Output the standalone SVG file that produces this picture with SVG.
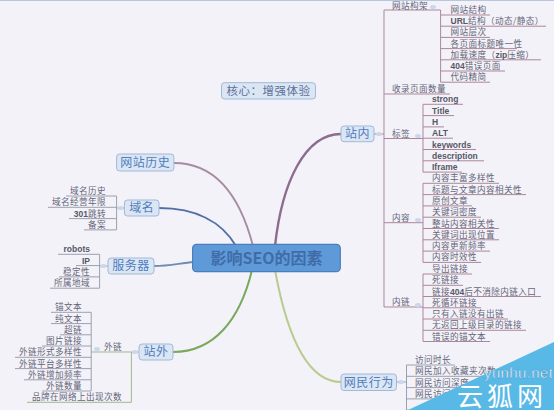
<svg xmlns="http://www.w3.org/2000/svg" width="554" height="410" viewBox="0 0 554 410">
<style>
.bg{fill:#f3f2f8}
.n1 rect{fill:#dbe6f4;stroke:#a3b8d8;stroke-width:1}
.n1 text{font-family:"Noto Sans CJK SC",sans-serif;font-size:12px;fill:#4f7dbd;text-anchor:middle;letter-spacing:0.5px}
.t{font-family:"Noto Sans CJK SC","Liberation Sans",sans-serif;font-size:8.6px;letter-spacing:0.4px;fill:#66667a}
.b{font-family:"Liberation Sans",sans-serif;font-weight:bold;font-size:8.5px;letter-spacing:0;fill:#575768}
.e{text-anchor:end}
.ul{fill:none;stroke-width:1}
.rose{stroke:#ad8799}
.gray{stroke:#9aa0ae}
.grn{stroke:#9fb98e}
.mk{fill:#cbd7ea}
.main{fill:none;stroke-linecap:round}
</style>
<rect class="bg" x="0" y="0" width="554" height="410"/>
<line x1="0" y1="0.5" x2="554" y2="0.5" stroke="#b8c6e0" stroke-width="1"/>

<g id="connectors">
  <path class="main" d="M275,246 C282,182 305,134 341,134" stroke="#8d6c8d" stroke-width="2.4"/>
  <path class="main" d="M253,246 C240,196 216,163 174,163" stroke="#a68ca3" stroke-width="1.8"/>
  <path class="main" d="M236,246 C222,222 196,208 159,208" stroke="#4f6fa8" stroke-width="1.8"/>
  <path class="main" d="M194,262 C180,263 170,266 154,266" stroke="#6f8db3" stroke-width="1.8"/>
  <path class="main" d="M252,270 C240,320 214,352 173,352" stroke="#7aa85c" stroke-width="2"/>
  <path class="main" d="M275,270 C286,330 305,382 341,382" stroke="#b9cb8e" stroke-width="2"/>

  <path class="ul rose" d="M374,134 H384 M384,10 V307 M384,10 H440.6 M384,94 H450 M384,138.5 H423 M384,222.7 H423 M384,307 H423"/>
  <path class="ul rose" d="M440.6,10 V82.2 M440.6,15 H490 M440.6,26.2 H546 M440.6,37.4 H490 M440.6,48.6 H517 M440.6,59.8 H541 M440.6,71 H505 M440.6,82.2 H490"/>
  <path class="ul rose" d="M423,104.3 V172.1 M423,104.3 H463 M423,115.6 H454 M423,126.9 H444 M423,138.2 H453 M423,149.5 H476 M423,160.8 H484 M423,172.1 H462"/>
  <path class="ul rose" d="M423,183.3 V262.4 M423,183.3 H499 M423,194.6 H526 M423,205.9 H472 M423,217.2 H481 M423,228.5 H499 M423,239.8 H499 M423,251.1 H490 M423,262.4 H481"/>
  <path class="ul rose" d="M423,274 V341.5 M423,274 H472 M423,285.3 H463 M423,296.5 H541 M423,307.8 H481 M423,319 H508 M423,330.3 H526 M423,341.5 H490"/>

  <path class="ul gray" d="M396.5,382 H406.5 M406.5,365 V410 M406.5,365 H455 M406.5,376.3 H500 M406.5,387.6 H473 M406.5,398.9 H473 M406.5,410 H500"/>

  <path class="ul gray" d="M116.6,208 H124.4 M116.6,196 V229.9 M66,196 H116.6 M48,207.3 H116.6 M69,218.6 H116.6 M84,229.9 H116.6"/>
  <path class="ul gray" d="M99.6,266 H108 M99.6,254.3 V288.2 M58,254.3 H99.6 M76,265.6 H99.6 M59,276.9 H99.6 M50,288.2 H99.6"/>
  <path class="ul grn" d="M131.4,352 H139 M131.4,352 V402.3 M91.2,352 H131.4 M27,402.3 H131.4"/>
  <path class="ul gray" d="M91.2,312.3 V391 M51,312.3 H91.2 M51,323.6 H91.2 M60,334.8 H91.2 M42,346 H91.2 M15,357.3 H91.2 M15,368.6 H91.2 M24,379.8 H91.2 M42,391 H91.2"/>

  <ellipse class="mk" cx="379" cy="134" rx="3" ry="2"/>
  <ellipse class="mk" cx="433" cy="7" rx="3" ry="2"/>
  <ellipse class="mk" cx="418" cy="136" rx="3" ry="2"/>
  <ellipse class="mk" cx="418" cy="220" rx="3" ry="2"/>
  <ellipse class="mk" cx="418" cy="305" rx="3" ry="2"/>
  <ellipse class="mk" cx="401" cy="382" rx="3" ry="2"/>
  <ellipse class="mk" cx="120.5" cy="208" rx="3" ry="2"/>
  <ellipse class="mk" cx="103.5" cy="266" rx="3" ry="2"/>
  <ellipse class="mk" cx="135" cy="352" rx="3" ry="2"/>
  <ellipse class="mk" cx="97" cy="349" rx="3" ry="2"/>
</g>

<g id="core" class="n1">
  <rect x="221.5" y="82.7" width="94" height="16.3" rx="3"/>
  <text x="268.5" y="95" style="fill:#5d7199;font-size:11.5px">核心：增强体验</text>
</g>

<g id="center">
  <rect x="192.6" y="244.3" width="147.7" height="27.4" rx="4" fill="#5f9ad8" stroke="#4c7dbd" stroke-width="1.2"/>
  <text x="266.5" y="263.6" text-anchor="middle" font-family="Noto Sans CJK SC, Liberation Sans, sans-serif" font-size="16" font-weight="bold" fill="#3f6ca8">影响SEO的因素</text>
</g>

<g id="zhannei" class="n1">
  <rect x="341" y="126" width="33" height="15.7" rx="3"/>
  <text x="357.5" y="138">站内</text>
</g>
<g id="history" class="n1">
  <rect x="116.6" y="154" width="57.3" height="17" rx="3"/>
  <text x="145.2" y="166.7">网站历史</text>
</g>
<g id="domain" class="n1">
  <rect x="124.4" y="200" width="34.6" height="16" rx="3"/>
  <text x="141.7" y="212.3">域名</text>
</g>
<g id="server" class="n1">
  <rect x="108" y="258" width="46" height="16" rx="3"/>
  <text x="131" y="270.3">服务器</text>
</g>
<g id="zhanwai" class="n1">
  <rect x="139" y="344" width="34" height="16" rx="3"/>
  <text x="156" y="356.3">站外</text>
</g>
<g id="behavior" class="n1">
  <rect x="341" y="374" width="55.5" height="16.5" rx="3"/>
  <text x="368.7" y="386.6">网民行为</text>
</g>

<g id="zhannei-children">
  <text class="t" x="392" y="8.5">网站构架</text>
  <text class="t" x="392" y="92">收录页面数量</text>
  <text class="t" x="392" y="136.5">标签</text>
  <text class="t" x="392" y="220.7">内容</text>
  <text class="t" x="392" y="305">内链</text>

  <text class="t" x="450.5" y="13">网站结构</text>
  <text class="t" x="450.5" y="24.2"><tspan class="b">URL</tspan>结构（动态/静态）</text>
  <text class="t" x="450.5" y="35.4">网站层次</text>
  <text class="t" x="450.5" y="46.6">各页面标题唯一性</text>
  <text class="t" x="450.5" y="57.8">加载速度（<tspan class="b">zip</tspan>压缩）</text>
  <text class="t" x="450.5" y="69"><tspan class="b">404</tspan>错误页面</text>
  <text class="t" x="450.5" y="80.2">代码精简</text>

  <text class="b" x="432" y="102.3">strong</text>
  <text class="b" x="432" y="113.6">Title</text>
  <text class="b" x="432" y="124.9">H</text>
  <text class="b" x="432" y="136.2">ALT</text>
  <text class="b" x="432" y="147.5">keywords</text>
  <text class="b" x="432" y="158.8">description</text>
  <text class="b" x="432" y="170.1">Iframe</text>

  <text class="t" x="432" y="181.3">内容丰富多样性</text>
  <text class="t" x="432" y="192.6">标题与文章内容相关性</text>
  <text class="t" x="432" y="203.9">原创文章</text>
  <text class="t" x="432" y="215.2">关键词密度</text>
  <text class="t" x="432" y="226.5">整站内容相关性</text>
  <text class="t" x="432" y="237.8">关键词出现位置</text>
  <text class="t" x="432" y="249.1">内容更新频率</text>
  <text class="t" x="432" y="260.4">内容时效性</text>

  <text class="t" x="432" y="272">导出链接</text>
  <text class="t" x="432" y="283.3">死链接</text>
  <text class="t" x="432" y="294.5">链接<tspan class="b">404</tspan>后不消除内链入口</text>
  <text class="t" x="432" y="305.8">死循环链接</text>
  <text class="t" x="432" y="317">只有入链没有出链</text>
  <text class="t" x="432" y="328.3">无返回上级目录的链接</text>
  <text class="t" x="432" y="339.5">错误的锚文本</text>
</g>

<g id="behavior-children">
  <text class="t" x="415" y="363">访问时长</text>
  <text class="t" x="415" y="374.3">网民加入收藏夹次数</text>
  <text class="t" x="415" y="385.6">网民访问深度</text>
  <text class="t" x="415" y="396.9">网民访问频率</text>
</g>

<g id="domain-children">
  <text class="t e" x="106" y="194">域名历史</text>
  <text class="t e" x="106" y="205.3">域名经营年限</text>
  <text class="t e" x="106" y="216.6"><tspan class="b">301</tspan>跳转</text>
  <text class="t e" x="106" y="227.9">备案</text>
</g>

<g id="server-children">
  <text class="b e" x="90" y="252.3">robots</text>
  <text class="b e" x="90" y="263.6">IP</text>
  <text class="t e" x="90" y="274.9">稳定性</text>
  <text class="t e" x="90" y="286.2">所属地域</text>
</g>

<g id="zhanwai-children">
  <text class="t" x="104" y="350">外链</text>
  <text class="t e" x="122" y="400.3">品牌在网络上出现次数</text>
  <text class="t e" x="82" y="310.3">锚文本</text>
  <text class="t e" x="82" y="321.6">纯文本</text>
  <text class="t e" x="82" y="332.8">超链</text>
  <text class="t e" x="82" y="344">图片链接</text>
  <text class="t e" x="82" y="355.3">外链形式多样性</text>
  <text class="t e" x="82" y="366.6">外链平台多样性</text>
  <text class="t e" x="82" y="377.8">外链增加频率</text>
  <text class="t e" x="82" y="389">外链数量</text>
</g>

<g id="watermark">
  <polygon points="408,410 554,342 554,410" fill="#58b9e6"/>
  <text x="484" y="378" font-family="Liberation Sans, sans-serif" font-size="15" fill="#ffffff" stroke="#3f8fc4" stroke-width="0.4" textLength="69">yunhu.net</text>
  <text x="457" y="406" font-family="Noto Sans CJK SC, sans-serif" font-size="26" fill="#ffffff" letter-spacing="4">云狐网</text>
</g>
</svg>
